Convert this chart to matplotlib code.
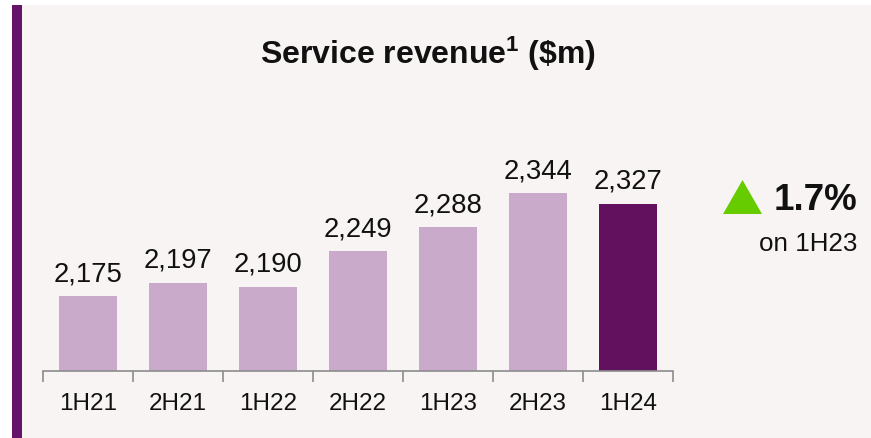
import matplotlib.pyplot as plt
from matplotlib.patches import Rectangle, Polygon

plt.rcParams['font.family'] = ['Liberation Sans', 'DejaVu Sans']
plt.rcParams['mathtext.fontset'] = 'custom'
plt.rcParams['mathtext.rm'] = 'Liberation Sans:bold'
plt.rcParams['mathtext.it'] = 'Liberation Sans:bold'
plt.rcParams['mathtext.bf'] = 'Liberation Sans:bold'

# data
periods = ['1H21', '2H21', '1H22', '2H22', '1H23', '2H23', '1H24']
revenue = [2175, 2197, 2190, 2249, 2288, 2344, 2327]
change_pct = 1.7
compare_to = '1H23'

W, H = 871, 439
light = '#c9aaca'
dark = '#62115f'
panel_bg = '#f8f4f3'

fig = plt.figure(figsize=(W / 100, H / 100), dpi=100)
fig.patch.set_facecolor('white')

def fx(px):
    return px / W

def fy(py):
    return 1 - py / H

# panel background and purple stripe on the left
fig.add_artist(Rectangle((fx(22), 0), 1 - fx(22), fy(6), transform=fig.transFigure,
                         facecolor=panel_bg, edgecolor='none', zorder=0))
fig.add_artist(Rectangle((fx(12), 0), fx(10), fy(6), transform=fig.transFigure,
                         facecolor='#66146a', edgecolor='none', zorder=0))

ax = fig.add_axes([fx(43), fy(372), fx(673) - fx(43), fy(100) - fy(372)])
ax.set_facecolor('none')

colors = [light] * (len(periods) - 1) + [dark]
x = list(range(len(periods)))
ax.bar(x, revenue, width=0.645, color=colors, zorder=2)

for xi, v in zip(x, revenue):
    ax.annotate(f'{v:,}', (xi, v), xytext=(0, 11.5), textcoords='offset points',
                ha='center', va='baseline', fontsize=19.8, color='#111111')

ax.set_xlim(-0.5, len(periods) - 0.5)
ax.set_ylim(2051.6, 2499.2)
ax.set_yticks([])
for s in ['top', 'right', 'left']:
    ax.spines[s].set_visible(False)
ax.spines['bottom'].set_color('#8c8c8c')
ax.spines['bottom'].set_linewidth(1.2)

ax.set_xticks(x)
ax.set_xticklabels(periods, fontsize=17.5, color='#111111')
ax.tick_params(axis='x', which='major', length=0, pad=15)
ax.set_xticks([i - 0.5 for i in range(len(periods) + 1)], minor=True)
ax.tick_params(axis='x', which='minor', length=8, width=1.2, color='#8c8c8c')

# title
fig.text(fx(428), fy(64), r'Service revenue$^{1}$ (\$m)', ha='center', va='baseline',
         fontsize=23, fontweight='bold', color='#111111')

# growth callout
fig.add_artist(Polygon([(fx(723), fy(215)), (fx(762), fy(215)), (fx(742.5), fy(181))],
                       closed=True, transform=fig.transFigure,
                       facecolor='#66cc00', edgecolor='none'))
fig.text(fx(857), fy(210), f'{change_pct}%', ha='right', va='baseline',
         fontsize=26.5, fontweight='bold', color='#111111')
fig.text(fx(857), fy(251), f'on {compare_to}', ha='right', va='baseline',
         fontsize=18.7, color='#111111')

fig.savefig('out.png', dpi=100)
